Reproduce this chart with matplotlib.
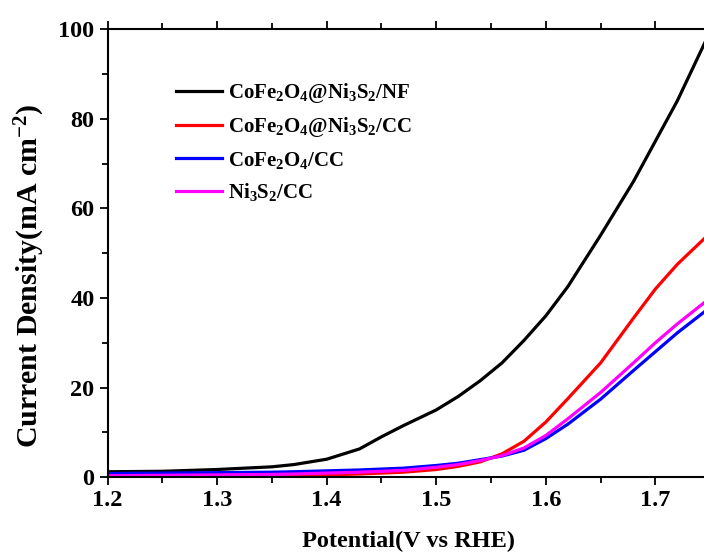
import matplotlib
matplotlib.use("Agg")
import matplotlib.pyplot as plt

plt.rcParams['font.family'] = ['Liberation Serif', 'DejaVu Serif']
plt.rcParams['font.weight'] = 'bold'
plt.rcParams['mathtext.fontset'] = 'custom'
plt.rcParams['mathtext.rm'] = 'Liberation Serif:bold'
plt.rcParams['mathtext.it'] = 'Liberation Serif:bold'
plt.rcParams['mathtext.bf'] = 'Liberation Serif:bold'

potential = [1.20, 1.25, 1.30, 1.35, 1.37, 1.40, 1.43, 1.45, 1.47, 1.50, 1.52,
             1.54, 1.56, 1.58, 1.60, 1.62, 1.65, 1.68, 1.70, 1.72, 1.75]
cofe_ni_nf = [1.2, 1.3, 1.7, 2.3, 2.8, 4.0, 6.3, 9.0, 11.5, 15.0, 18.0,
              21.5, 25.5, 30.5, 36.0, 42.5, 54.0, 66.0, 75.0, 84.0, 99.5]
cofe_ni_cc = [0.1, 0.1, 0.2, 0.3, 0.35, 0.5, 0.7, 0.9, 1.1, 1.7, 2.4,
              3.4, 5.2, 8.0, 12.3, 17.5, 25.5, 35.5, 42.0, 47.5, 54.5]
cofe_cc = [0.8, 0.9, 1.0, 1.1, 1.2, 1.4, 1.6, 1.8, 2.0, 2.6, 3.1,
           3.9, 4.7, 6.0, 8.6, 11.8, 17.4, 23.8, 28.0, 32.2, 37.9]
ni_cc = [0.3, 0.4, 0.5, 0.6, 0.7, 0.9, 1.1, 1.3, 1.5, 2.2, 2.8,
         3.7, 4.8, 6.5, 9.3, 13.0, 18.9, 25.5, 30.0, 34.2, 40.0]

labels = [r'CoFe$_{2}$O$_{4}$@Ni$_{3}$S$_{2}$/NF',
          r'CoFe$_{2}$O$_{4}$@Ni$_{3}$S$_{2}$/CC',
          r'CoFe$_{2}$O$_{4}$/CC',
          r'Ni$_{3}$S$_{2}$/CC']
colors = ['black', '#ff0000', '#0000ff', '#ff00ff']

fig = plt.figure(figsize=(7.04, 5.6), dpi=100)
ax = fig.add_axes([0.1528, 0.148, 0.856, 0.800])

series = [cofe_ni_nf, cofe_ni_cc, cofe_cc, ni_cc]
for vals, lab, c in zip(series, labels, colors):
    ax.plot(potential, vals, color=c, lw=2.3, label=lab)
ax.set_xlim(1.2, 1.75)
ax.set_ylim(0, 100)
ax.set_xticks([1.2, 1.3, 1.4, 1.5, 1.6, 1.7])
ax.set_xticks([1.25, 1.35, 1.45, 1.55, 1.65, 1.75], minor=True)
ax.set_yticks([0, 20, 40, 60, 80, 100])
ax.set_yticks([10, 30, 50, 70, 90], minor=True)
ax.tick_params(axis='both', which='major', direction='out', length=6, width=1.3,
               labelsize=17.5, top=True, right=False)
ax.tick_params(axis='both', which='minor', direction='out', length=4, width=1.3,
               top=True, right=False)
for s in ['left', 'bottom', 'top']:
    ax.spines[s].set_linewidth(1.5)
ax.spines['right'].set_visible(False)
for t in ax.get_xticklabels() + ax.get_yticklabels():
    t.set_fontweight('bold')

ax.set_xlabel('Potential(V vs RHE)', fontsize=17.5, fontweight='bold', labelpad=14)
ax.set_ylabel(r'Current Density(mA cm$^{-2}$)', fontsize=21.5, fontweight='bold')
ax.yaxis.set_label_coords(-0.1, 0.45)

leg = ax.legend(loc='upper left', bbox_to_anchor=(0.1, 0.903), frameon=False,
                fontsize=15, handlelength=2.2, handletextpad=0.3, labelspacing=0.5,
                borderaxespad=0)

fig.savefig('out.png', dpi=100)
